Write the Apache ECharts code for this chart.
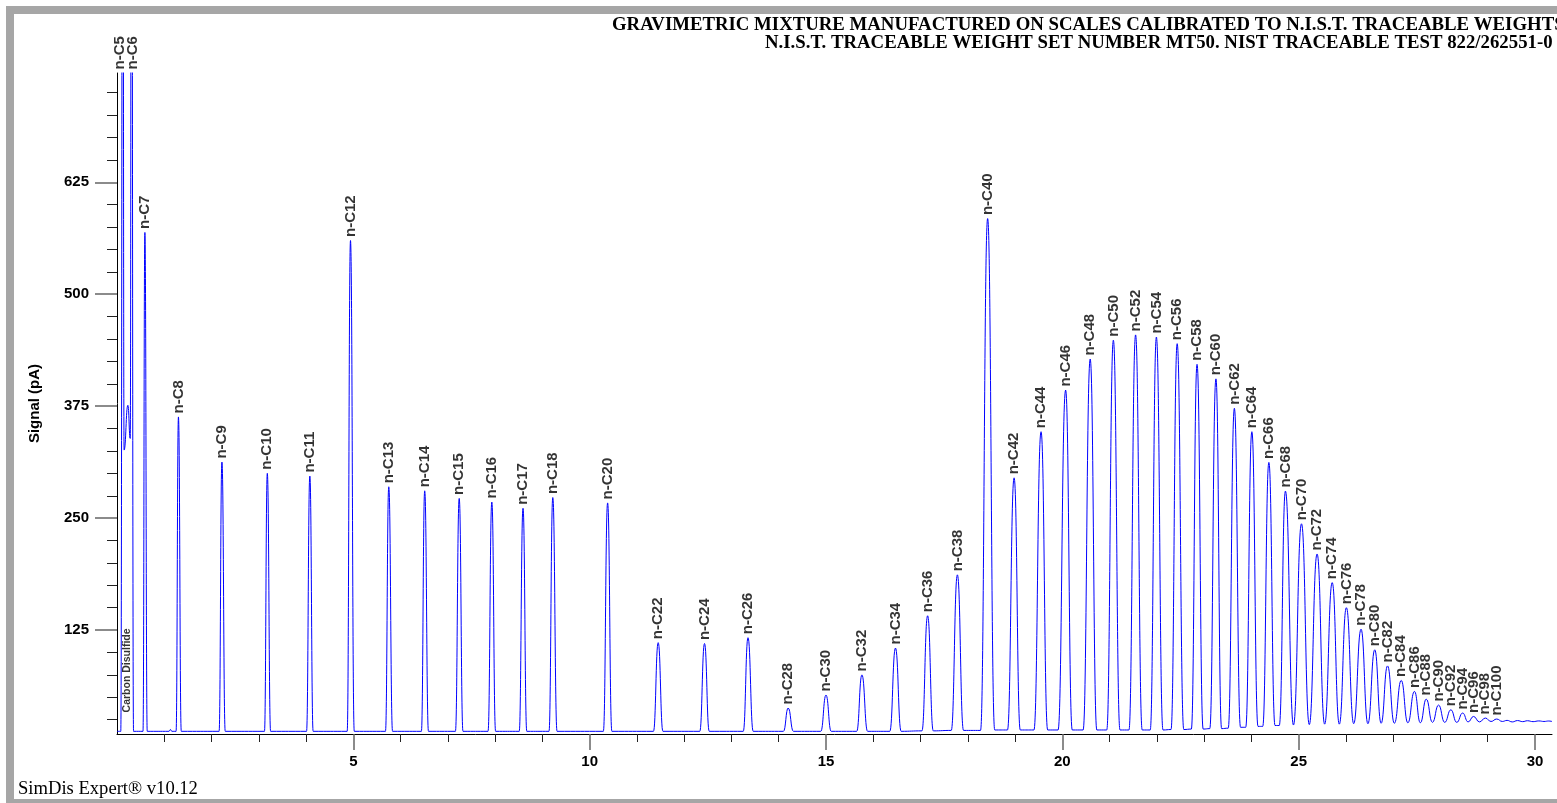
<!DOCTYPE html>
<html>
<head>
<meta charset="utf-8">
<script src="https://cdn.jsdelivr.net/npm/echarts@6/dist/echarts.min.js"></script>
<style>
html,body{margin:0;padding:0;background:#fff;}
#chart{width:1557px;height:803px;}
</style>
</head>
<body>
<div id="chart"></div>
<script>
// ---------- data ----------
const peakNames = ['n-C5','n-C6','n-C7','n-C8','n-C9','n-C10','n-C11','n-C12','n-C13','n-C14','n-C15','n-C16','n-C17','n-C18',
  'n-C20','n-C22','n-C24','n-C26','n-C28','n-C30','n-C32','n-C34','n-C36','n-C38','n-C40','n-C42','n-C44','n-C46','n-C48',
  'n-C50','n-C52','n-C54','n-C56','n-C58','n-C60','n-C62','n-C64','n-C66','n-C68','n-C70','n-C72','n-C74','n-C76','n-C78',
  'n-C80','n-C82','n-C84','n-C86','n-C88','n-C90','n-C92','n-C94','n-C96','n-C98','n-C100'];
// retention time of each apex (min)
const peakTimes = [0.123,0.307,0.59,1.30,2.22,3.18,4.08,4.94,5.75,6.51,7.24,7.93,8.59,9.22,
  10.38,11.45,12.43,13.35,14.20,15.00,15.76,16.47,17.15,17.78,18.42,18.98,19.55,20.07,20.59,
  21.08,21.55,21.99,22.43,22.85,23.25,23.64,24.01,24.37,24.72,25.06,25.39,25.71,26.01,26.32,
  26.61,26.88,27.17,27.45,27.70,27.96,28.22,28.47,28.70,28.95,29.19];
// apex signal (pA); C5 and C6 are off scale
const peakHeights = [1200,1200,569,363,312.6,300,297,560,285,280.5,272,268,261,273,
  267,111,110,116.5,38,52.5,75,105,141,186.7,584.5,295,346.5,393,427.6,
  448.7,454.6,452.2,444.8,421.7,405.5,372.6,346.5,312.2,280.2,243.7,210,178,150,126,
  103,85,68.8,56.5,48,41.3,36,32.4,28.6,26.8,25.7];
// where each peak name is written (min); C5/C6 names are pushed apart
const labelTimes = [0.057,0.339].concat(peakTimes.slice(2));
// peak feet, valleys, solvent bump and baseline ripples: [time, signal]
const baselinePoints = [
  [0,12],[0.08,12],[0.15,326],[0.23,376],[0.28,339],[0.35,12],
  [0.55,12],[0.64,12],[1.10,12],[1.13,14],[1.16,12],[1.25,12],[1.36,12],
  [2.16,12],[2.29,12],[3.12,12],[3.25,12],[4.01,12],[4.15,12],[4.87,12],[5.02,12],
  [5.68,12],[5.83,12],[6.44,12],[6.59,12],[7.16,12],[7.32,12],[7.85,12],[8.01,12],
  [8.51,12],[8.67,12],[9.14,12],[9.31,12],[10.29,12],[10.47,12],[11.35,12],[11.55,12],
  [12.33,12],[12.53,12],[13.25,12],[13.46,12],[14.10,12],[14.31,12],[14.89,12],[15.11,12],
  [15.65,12],[15.88,12],[16.35,12],[16.59,12],[17.03,12.5],[17.27,12.5],[17.65,13],[17.91,13],
  [18.27,13],[18.57,13.5],[18.84,13.5],[19.11,13.5],[19.40,13.5],[19.69,13.5],
  [19.91,13.5],[20.21,13.5],[20.44,13.5],[20.73,13.5],[20.94,13.5],[21.22,13.5],
  [21.41,13.5],[21.69,13.5],[21.86,13.5],[22.13,13.5],[22.30,14],[22.57,14],
  [22.73,14.5],[22.98,14.5],[23.12,15],[23.37,15],[23.51,15.5],[23.77,16.5],
  [23.88,16.5],[24.14,17.5],[24.24,17.5],[24.50,18.5],[24.59,18.5],[24.89,19],
  [25.225,19.5],[25.55,20],[25.86,20],[26.165,20.5],[26.465,20.5],[26.745,21],
  [27.025,21],[27.31,21.5],[27.575,21.5],[27.83,22],[28.09,22],[28.345,22],
  [28.585,22.5],[28.825,22.5],[29.07,23],[29.31,23],[29.41,24.2],[29.52,22.5],
  [29.63,24],[29.74,22.8],[29.84,23.8],[29.96,22.8],[30.08,23.6],[30.19,23],
  [30.29,23.5],[30.36,23]
];
const annotationNames = ['Carbon Disulfide'];
const annotationTimes = [0.212];
const annotationSignals = [32.5];

const xMajorTicks = [5,10,15,20,25,30];
const xMinorTicks = [1,2,3,4,6,7,8,9,11,12,13,14,16,17,18,19,21,22,23,24,26,27,28,29];
const yMajorTicks = [125,250,375,500,625];
const yMinorTicks = [25,50,75,100,150,175,200,225,275,300,325,350,400,425,450,475,525,550,575,600,650,675,700,725];
const xRange = [0, 30.36];
const yRange = [9, 747];

const titleLines = [
  'GRAVIMETRIC MIXTURE MANUFACTURED ON SCALES CALIBRATED TO N.I.S.T. TRACEABLE WEIGHTS',
  'N.I.S.T. TRACEABLE WEIGHT SET NUMBER MT50. NIST TRACEABLE TEST 822/262551-0'
];
const footerText = 'SimDis Expert\u00AE v10.12';

// ---------- build ----------
const trace = peakTimes.map((t, i) => [t, peakHeights[i]])
  .concat(baselinePoints)
  .sort((a, b) => a[0] - b[0]);
const labelData = peakNames.map((n, i) => ({
  name: n, value: [labelTimes[i], Math.min(peakHeights[i], yRange[1])]
}));
const annotData = annotationNames.map((n, i) => ({ name: n, value: [annotationTimes[i], annotationSignals[i]] }));

const sans = 'Arial, "Liberation Sans", sans-serif';
const serif = '"Times New Roman", "Liberation Serif", serif';

const chart = echarts.init(document.getElementById('chart'), null, { renderer: 'canvas' });
chart.setOption({
  animation: false,
  backgroundColor: '#ffffff',
  grid: { left: 117, top: 73, right: 5, bottom: 69, containLabel: false },
  xAxis: [
    {
      type: 'value', min: xRange[0], max: xRange[1], position: 'bottom',
      axisLine: { show: true, onZero: false, lineStyle: { color: '#000', width: 1 } },
      axisTick: { show: true, length: 16, customValues: xMajorTicks, lineStyle: { color: '#666', width: 1.5 } },
      axisLabel: { show: true, customValues: xMajorTicks, margin: 20, color: '#000', fontSize: 15, fontWeight: 'bold', fontFamily: sans },
      splitLine: { show: false }
    },
    {
      type: 'value', min: xRange[0], max: xRange[1], position: 'bottom',
      axisLine: { show: false },
      axisTick: { show: true, length: 8, customValues: xMinorTicks, lineStyle: { color: '#222', width: 1 } },
      axisLabel: { show: false },
      splitLine: { show: false }
    }
  ],
  yAxis: [
    {
      type: 'value', min: yRange[0], max: yRange[1], position: 'left',
      name: 'Signal (pA)', nameLocation: 'middle', nameGap: 75,
      nameTextStyle: { color: '#000', fontSize: 15, fontWeight: 'bold', fontFamily: sans },
      axisLine: { show: true, onZero: false, lineStyle: { color: '#000', width: 1 } },
      axisTick: { show: true, length: 22, customValues: yMajorTicks, lineStyle: { color: '#666', width: 1.5 } },
      axisLabel: { show: true, customValues: yMajorTicks, margin: 28, color: '#000', fontSize: 15, fontWeight: 'bold', fontFamily: sans },
      splitLine: { show: false }
    },
    {
      type: 'value', min: yRange[0], max: yRange[1], position: 'left',
      axisLine: { show: false },
      axisTick: { show: true, length: 10, customValues: yMinorTicks, lineStyle: { color: '#222', width: 1 } },
      axisLabel: { show: false },
      splitLine: { show: false }
    }
  ],
  series: [
    {
      type: 'line', data: trace, xAxisIndex: 0, yAxisIndex: 0,
      symbol: 'none', showSymbol: false, smooth: 0.5, smoothMonotone: 'x', clip: true,
      lineStyle: { color: '#0000ff', width: 1 }, silent: true, z: 2
    },
    {
      type: 'scatter', data: labelData, xAxisIndex: 0, yAxisIndex: 0,
      symbolSize: 1, itemStyle: { color: 'rgba(0,0,0,0)' }, silent: true, clip: false, z: 3,
      label: { show: true, position: 'top', distance: 3, rotate: 90, align: 'left', verticalAlign: 'middle',
        formatter: '{b}', color: '#000', fontSize: 15, fontWeight: 'bold', fontFamily: sans }
    },
    {
      type: 'scatter', data: annotData, xAxisIndex: 0, yAxisIndex: 0,
      symbolSize: 1, itemStyle: { color: 'rgba(0,0,0,0)' }, silent: true, clip: false, z: 3,
      label: { show: true, position: 'top', distance: 0, rotate: 90, align: 'left', verticalAlign: 'middle',
        formatter: '{b}', color: '#000', fontSize: 10.5, fontWeight: 'bold', fontFamily: sans }
    }
  ],
  graphic: [
    { type: 'rect', silent: true, z: 10,
      shape: { x: 10, y: 10, width: 1562, height: 793 },
      style: { fill: 'none', stroke: '#a6a6a6', lineWidth: 8 } },
    { type: 'text', silent: true, x: 612, y: 25, z: 11,
      style: { text: titleLines[0], font: 'bold 18.8px ' + serif, fill: '#000', textAlign: 'left', textVerticalAlign: 'middle' } },
    { type: 'text', silent: true, x: 765, y: 43, z: 11,
      style: { text: titleLines[1], font: 'bold 18.8px ' + serif, fill: '#000', textAlign: 'left', textVerticalAlign: 'middle' } },
    { type: 'text', silent: true, x: 18, y: 789, z: 11,
      style: { text: footerText, font: '18.6px ' + serif, fill: '#000', textAlign: 'left', textVerticalAlign: 'middle' } }
  ]
});
</script>
</body>
</html>
